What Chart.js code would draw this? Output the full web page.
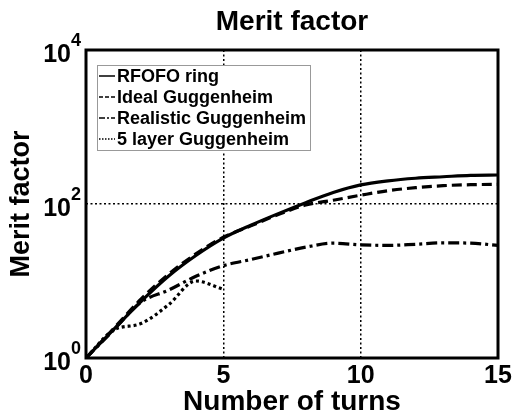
<!DOCTYPE html>
<html>
<head>
<meta charset="utf-8">
<script src="https://cdn.jsdelivr.net/npm/chart.js@4"></script>
<style>
  html, body { margin: 0; padding: 0; background: #fff; }
  #wrap { width: 516px; height: 416px; }
</style>
</head>
<body>
<div id="wrap"><canvas id="myChart" width="516" height="416"></canvas></div>
<script>
// data
var turns = [0, 1, 2, 3, 4, 5, 6, 7, 8, 9, 10, 11, 12, 13, 14, 15];
var rfofo = [1, 2.34, 5.4, 11.5, 21.4, 36, 53, 75, 104, 141, 177, 200, 216, 226, 236, 238];
var ideal = [1, 2.4, 5.8, 12.2, 22.5, 37, 52, 73, 97, 112, 130, 149, 163, 173, 178, 180];
var realistic = [1, 2.3, 5.3, 7.6, 11.5, 15.8, 19, 23, 27.5, 31, 29.5, 29, 30, 31.3, 31, 29];
var layer5Turns = [0, 1, 2, 3, 4, 5];
var layer5 = [1, 2.3, 2.8, 4.9, 10, 7.8];

var seriesLabels = ['RFOFO ring', 'Ideal Guggenheim', 'Realistic Guggenheim', '5 layer Guggenheim'];
var yTicks = [1, 100, 10000];

var FONT = "'Liberation Sans', Arial, Helvetica, sans-serif";
Chart.defaults.font.family = FONT;
Chart.defaults.color = '#000';

function pts(xs, ys) {
    return xs.map(function (x, i) { return { x: x, y: ys[i] }; });
}

// legend sample dashes (short, thin)
var legendDash = [[], [4, 2], [6, 2, 2, 2], [1.5, 1.5]];

// y tick labels as 10 with a raised exponent, plus the box frame and the legend
const extras = {
    id: 'extras',
    afterDatasetsDraw(chart) {
        const ctx = chart.ctx;
        const a = chart.chartArea;
        ctx.save();
        ctx.strokeStyle = '#000';
        ctx.lineWidth = 3;
        ctx.setLineDash([]);
        ctx.strokeRect(a.left, a.top, a.right - a.left, a.bottom - a.top);
        ctx.restore();

        // legend
        const lx = a.left + 11, ly = a.top + 15, lw = 213, lh = 85;
        ctx.save();
        ctx.fillStyle = '#fff';
        ctx.fillRect(lx, ly, lw, lh);
        ctx.strokeStyle = '#999';
        ctx.lineWidth = 1;
        ctx.strokeRect(lx + 0.5, ly + 0.5, lw, lh);
        ctx.font = 'bold 18px ' + FONT;
        ctx.textBaseline = 'middle';
        ctx.fillStyle = '#000';
        chart.data.datasets.forEach(function (ds, i) {
            const cy = ly + 11 + i * 21;
            ctx.strokeStyle = '#000';
            ctx.lineWidth = 1.5;
            ctx.setLineDash(legendDash[i]);
            ctx.beginPath();
            ctx.moveTo(lx + 2, cy);
            ctx.lineTo(lx + 18, cy);
            ctx.stroke();
            ctx.setLineDash([]);
            ctx.fillText(ds.label, lx + 20, cy + 1);
        });
        ctx.restore();
    },
    afterDraw(chart) {
        const ctx = chart.ctx;
        const ys = chart.scales.y;
        ctx.save();
        ctx.fillStyle = '#000';
        ctx.textBaseline = 'alphabetic';
        ys.ticks.forEach(function (t) {
            const py = ys.getPixelForValue(t.value);
            const exp = String(Math.round(Math.log10(t.value)));
            ctx.font = 'bold 18px ' + FONT;
            const ew = ctx.measureText(exp).width;
            ctx.textAlign = 'left';
            ctx.fillText(exp, 81 - ew, py - 4);
            ctx.font = 'bold 25px ' + FONT;
            ctx.textAlign = 'right';
            ctx.fillText('10', 81 - ew, py + 12);
        });
        ctx.restore();
    }
};

new Chart(document.getElementById('myChart'), {
    type: 'line',
    data: {
        datasets: [{
            label: seriesLabels[0],
            data: pts(turns, rfofo),
            borderColor: '#000',
            borderWidth: 3.2,
            borderDash: []
        }, {
            label: seriesLabels[1],
            data: pts(turns, ideal),
            borderColor: '#000',
            borderWidth: 3.2,
            borderDash: [10, 5]
        }, {
            label: seriesLabels[2],
            data: pts(turns, realistic),
            borderColor: '#000',
            borderWidth: 3.2,
            borderDash: [11, 4, 3, 4]
        }, {
            label: seriesLabels[3],
            data: pts(layer5Turns, layer5),
            borderColor: '#000',
            borderWidth: 3.2,
            borderDash: [3, 3]
        }]
    },
    options: {
        responsive: false,
        animation: false,
        layout: { padding: { top: 0, right: 18, bottom: 0, left: 0 } },
        elements: {
            point: { radius: 0 },
            line: { cubicInterpolationMode: 'monotone', fill: false }
        },
        plugins: {
            legend: { display: false },
            tooltip: { enabled: false },
            title: {
                display: true,
                text: 'Merit factor',
                fullSize: false,
                color: '#000',
                font: { size: 28, weight: 'bold', lineHeight: 1.2 },
                padding: { top: 5.5, bottom: 10.9 }
            }
        },
        scales: {
            x: {
                type: 'linear',
                min: 0,
                max: 15,
                afterFit: function (s) { s.height = 58; },
                ticks: {
                    stepSize: 5,
                    padding: 3,
                    color: '#000',
                    font: { size: 25, weight: 'bold' }
                },
                grid: { color: '#000', lineWidth: 1.5, drawTicks: false },
                border: { display: false, dash: [2, 2.5] },
                title: {
                    display: true,
                    text: 'Number of turns',
                    color: '#000',
                    font: { size: 28, weight: 'bold', lineHeight: 1 },
                    padding: { top: 0, bottom: 0 }
                }
            },
            y: {
                type: 'logarithmic',
                min: 1,
                max: 10000,
                afterBuildTicks: function (s) {
                    s.ticks = yTicks.map(function (v) { return { value: v }; });
                },
                afterFit: function (s) { s.width = 86; },
                ticks: { display: false },
                grid: { color: '#000', lineWidth: 1.5, drawTicks: false },
                border: { display: false, dash: [2, 2.5] },
                title: {
                    display: true,
                    text: 'Merit factor',
                    color: '#000',
                    font: { size: 27, weight: 'bold', lineHeight: 1.2 },
                    padding: { top: 5.3, bottom: 0 }
                }
            }
        }
    },
    plugins: [extras]
});
</script>
</body>
</html>
